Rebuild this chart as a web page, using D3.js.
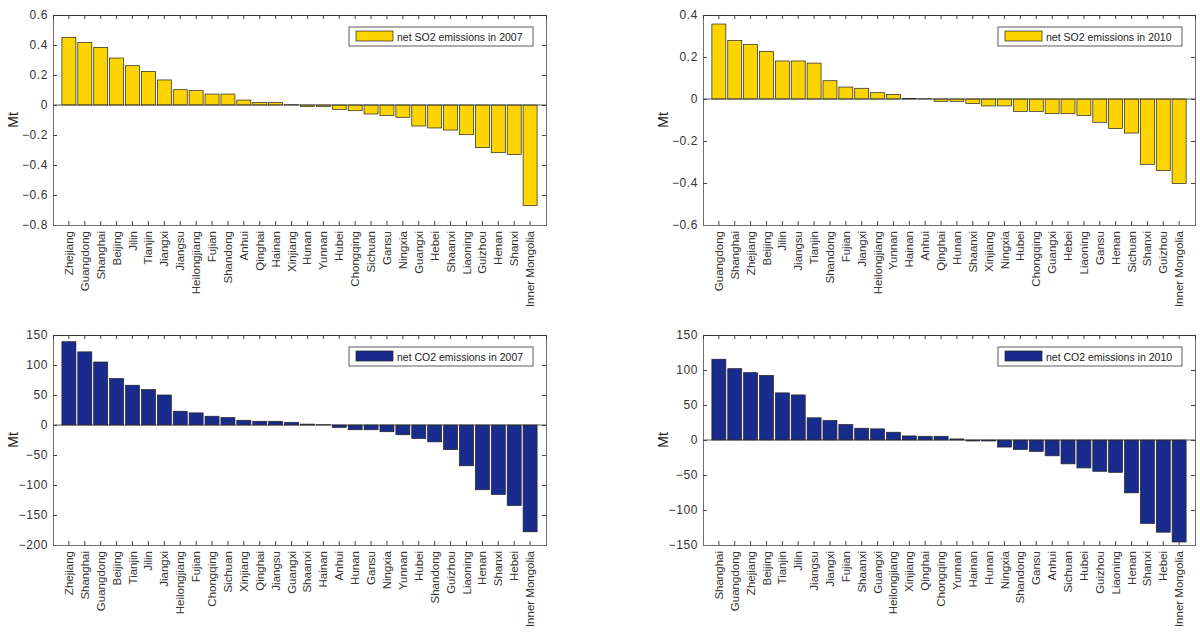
<!DOCTYPE html>
<html>
<head>
<meta charset="utf-8">
<script src="https://cdn.jsdelivr.net/npm/d3@7"></script>
<style>
  body { margin: 0; background: #fff; }
  svg text { font-family: "Liberation Sans", Arial, sans-serif; fill: #333; }
</style>
</head>
<body>
<div id="chart"></div>
<script>
// Net emissions by province (Mt)
const so2_2007_regions = ["Zhejiang", "Guangdong", "Shanghai", "Beijing", "Jilin", "Tianjin", "Jiangxi", "Jiangsu", "Heilongjiang", "Fujian", "Shandong", "Anhui", "Qinghai", "Hainan", "Xinjiang", "Hunan", "Yunnan", "Hubei", "Chongqing", "Sichuan", "Gansu", "Ningxia", "Guangxi", "Hebei", "Shaanxi", "Liaoning", "Guizhou", "Henan", "Shanxi", "Inner Mongolia"]
const so2_2007_values = [0.451, 0.416, 0.384, 0.313, 0.262, 0.224, 0.167, 0.102, 0.096, 0.073, 0.073, 0.033, 0.016, 0.016, 0.002, -0.009, -0.009, -0.029, -0.038, -0.06, -0.069, -0.082, -0.14, -0.153, -0.167, -0.198, -0.284, -0.318, -0.329, -0.669]

const so2_2010_regions = ["Guangdong", "Shanghai", "Zhejiang", "Beijing", "Jilin", "Jiangsu", "Tianjin", "Shandong", "Fujian", "Jiangxi", "Heilongjiang", "Yunnan", "Hainan", "Anhui", "Qinghai", "Hunan", "Shaanxi", "Xinjiang", "Ningxia", "Hubei", "Chongqing", "Guangxi", "Hebei", "Liaoning", "Gansu", "Henan", "Sichuan", "Shanxi", "Guizhou", "Inner Mongolia"]
const so2_2010_values = [0.357, 0.279, 0.26, 0.227, 0.181, 0.181, 0.171, 0.087, 0.057, 0.051, 0.03, 0.021, 0.002, 0.001, -0.011, -0.011, -0.022, -0.033, -0.033, -0.059, -0.059, -0.07, -0.07, -0.079, -0.111, -0.141, -0.162, -0.311, -0.341, -0.402]

const co2_2007_regions = ["Zhejiang", "Shanghai", "Guangdong", "Beijing", "Tianjin", "Jilin", "Jiangxi", "Heilongjiang", "Fujian", "Chongqing", "Sichuan", "Xinjiang", "Qinghai", "Jiangsu", "Guangxi", "Shaanxi", "Hainan", "Anhui", "Hunan", "Gansu", "Ningxia", "Yunnan", "Hubei", "Shandong", "Guizhou", "Liaoning", "Henan", "Shanxi", "Hebei", "Inner Mongolia"]
const co2_2007_values = [138.8, 121.9, 105, 77.5, 66.3, 59, 50, 23, 20.2, 14.6, 12.4, 7.9, 6.2, 6.2, 4.5, 1.5, 0.5, -4, -7.9, -7.9, -11.2, -16.3, -22.5, -28.1, -41, -68, -107.9, -115.7, -134.3, -178]

const co2_2010_regions = ["Shanghai", "Guangdong", "Zhejiang", "Beijing", "Tianjin", "Jilin", "Jiangsu", "Jiangxi", "Fujian", "Shaanxi", "Guangxi", "Heilongjiang", "Xinjiang", "Qinghai", "Chongqing", "Yunnan", "Hainan", "Hunan", "Ningxia", "Shandong", "Gansu", "Anhui", "Sichuan", "Hubei", "Guizhou", "Liaoning", "Henan", "Shanxi", "Hebei", "Inner Mongolia"]
const co2_2010_values = [115.4, 101.9, 96.2, 92.3, 67.3, 64.4, 31.7, 27.9, 22.1, 16.8, 15.9, 11.1, 5.8, 5.3, 5.3, 1.5, -1.4, -1.4, -10.1, -13.5, -16.3, -22.6, -34.1, -39.9, -44.7, -46.2, -75.5, -119.2, -131.7, -145.7]

const so2_ticks_2007 = [-0.8, -0.6, -0.4, -0.2, 0, 0.2, 0.4, 0.6]
const so2_ticks_2010 = [-0.6, -0.4, -0.2, 0, 0.2, 0.4]
const co2_ticks_2007 = [-200, -150, -100, -50, 0, 50, 100, 150]
const co2_ticks_2010 = [-150, -100, -50, 0, 50, 100, 150]

const yellow = "#fcd500"
const navy = "#1a2b8e"

const svg = d3.select("#chart")
    .append("svg")
    .attr("width", 1200)
    .attr("height", 632)

function barPanel(opts) {
    const { left, top, width, height, regions, values, ticks, colour, label } = opts

    const g = svg.append("g").attr("transform", `translate(${left},${top})`)

    // 30 bars on xlim [0, 31]
    const x = d3.scaleBand()
        .domain(regions)
        .range([0, width])
        .paddingInner(0.12)
        .paddingOuter(0.56)

    const y = d3.scaleLinear()
        .domain(d3.extent(ticks))
        .range([height, 0])

    const fmt = d => d === 0 ? "0" : (Math.abs(d) < 1 ? d3.format(".1f")(d) : d3.format("d")(d))

    // bars
    g.selectAll(".bar")
        .data(values)
        .enter()
        .append("rect")
        .attr("class", "bar")
        .attr("x", (d, i) => x(regions[i]))
        .attr("width", x.bandwidth())
        .attr("y", d => y(Math.max(0, d)))
        .attr("height", d => Math.abs(y(d) - y(0)))
        .style("fill", colour)
        .style("stroke", "#222")
        .style("stroke-width", 0.7)

    // zero baseline
    g.append("line")
        .attr("x1", 0).attr("x2", width)
        .attr("y1", y(0)).attr("y2", y(0))
        .style("stroke", "#333")
        .style("stroke-width", 0.8)

    // axes, ticks pointing inward on all four sides
    const axisLeft = g.append("g")
        .call(d3.axisLeft(y).tickValues(ticks).tickSize(-4).tickPadding(5).tickFormat(fmt))
    const axisRight = g.append("g")
        .attr("transform", `translate(${width},0)`)
        .call(d3.axisRight(y).tickValues(ticks).tickSize(-4).tickFormat(""))
    const axisBottom = g.append("g")
        .attr("transform", `translate(0,${height})`)
        .call(d3.axisBottom(x).tickSize(-4).tickPadding(6))
    const axisTop = g.append("g")
        .call(d3.axisTop(x).tickSize(-4).tickFormat(""))

    for (let a of [axisLeft, axisRight, axisBottom, axisTop]) {
        a.select(".domain").style("stroke", "#6e6e6e").style("stroke-width", 1)
        a.selectAll(".tick line").style("stroke", "#444")
        a.selectAll(".tick text").style("fill", "#333")
    }
    axisTop.select(".domain").style("stroke", "#333")

    axisLeft.selectAll(".tick text")
        .style("font-size", "12px")
        .style("letter-spacing", "0.6px")

    axisBottom.selectAll(".tick text")
        .style("font-size", "11.5px")
        .attr("transform", "rotate(-90)")
        .attr("text-anchor", "end")
        .attr("x", -6)
        .attr("y", 0)
        .attr("dy", "0.35em")

    // y label
    g.append("text")
        .attr("transform", `translate(${-35},${height / 2}) rotate(-90)`)
        .attr("text-anchor", "middle")
        .style("font-size", "14px")
        .style("fill", "#222")
        .text("Mt")

    // legend
    const lg = g.append("g").attr("transform", `translate(${width - 197},12)`)
    lg.append("rect")
        .attr("width", 184).attr("height", 19)
        .style("fill", "#fff")
        .style("stroke", "#333")
        .style("stroke-width", 0.8)
    lg.append("rect")
        .attr("x", 7).attr("y", 4)
        .attr("width", 37).attr("height", 10)
        .style("fill", colour)
        .style("stroke", "#222")
        .style("stroke-width", 0.7)
    lg.append("text")
        .attr("x", 48).attr("y", 13.5)
        .style("font-size", "10.5px")
        .style("fill", "#222")
        .text(label)
}

barPanel({ left: 53, top: 15, width: 493, height: 210, regions: so2_2007_regions, values: so2_2007_values, ticks: so2_ticks_2007, colour: yellow, label: "net SO2 emissions in 2007" })
barPanel({ left: 703, top: 15, width: 492, height: 210, regions: so2_2010_regions, values: so2_2010_values, ticks: so2_ticks_2010, colour: yellow, label: "net SO2 emissions in 2010" })
barPanel({ left: 53, top: 335, width: 493, height: 210, regions: co2_2007_regions, values: co2_2007_values, ticks: co2_ticks_2007, colour: navy, label: "net CO2 emissions in 2007" })
barPanel({ left: 703, top: 335, width: 492, height: 210, regions: co2_2010_regions, values: co2_2010_values, ticks: co2_ticks_2010, colour: navy, label: "net CO2 emissions in 2010" })
</script>
</body>
</html>
